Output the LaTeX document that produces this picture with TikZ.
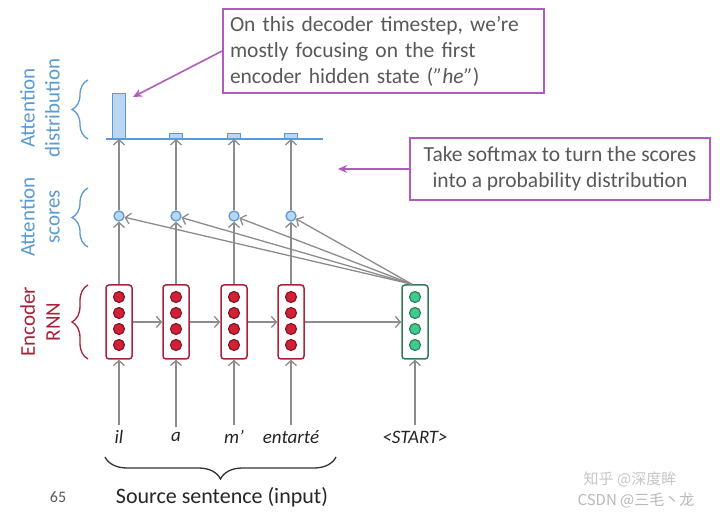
\documentclass[tikz,border=0pt]{standalone}
\usepackage{fontspec}
\setmainfont{Carlito}
\newfontfamily\cjk{Noto Sans CJK SC}
\usetikzlibrary{arrows.meta,positioning,decorations.pathreplacing}
\definecolor{purc}{HTML}{B05CBE}
\definecolor{txtc}{HTML}{595959}
\definecolor{arrc}{HTML}{8C8C8C}
\definecolor{bluec}{HTML}{5B9BD5}
\definecolor{bluebg}{HTML}{BBD6F2}
\definecolor{redc}{HTML}{A8223A}
\definecolor{reddot}{HTML}{D32033}
\definecolor{greenc}{HTML}{2F7D5E}
\definecolor{greendot}{HTML}{3FCB8F}
\tikzset{
  ar/.style={-{Straight Barb[length=5pt,width=11pt]},line width=1.3pt,arrc},
  par/.style={-{Stealth[length=9pt,width=8pt]},line width=1.6pt,purc},
  note/.style={draw=purc,line width=2pt,fill=white,text=txtc,font=\fontsize{21.5}{26}\selectfont,inner sep=7pt},
  cell/.style={draw,line width=1.5pt,rounded corners=3pt,fill=white,minimum width=26pt,minimum height=74pt},
  dot/.style={circle,draw,line width=1.2pt,minimum size=11pt,inner sep=0pt},
  sc/.style={circle,draw=bluec,line width=1.3pt,fill=bluebg,minimum size=10pt,inner sep=0pt},
  bar/.style={draw=bluec,line width=1.3pt,fill=bluebg,minimum width=13pt,inner sep=0pt,anchor=south},
  wd/.style={font=\fontsize{19}{21}\selectfont\itshape,text=black!85},
  brc/.style={decorate,decoration={brace,amplitude=#1},line width=1.3pt},
  side/.style={rotate=90,align=center,font=\fontsize{21}{25}\selectfont}
}
\begin{document}
\begin{tikzpicture}[x=1pt,y=1pt]
\fill[white] (0,0) rectangle (720,519);
\useasboundingbox (0,0) rectangle (720,519);
% attention distribution baseline
\draw[bluec,line width=1.3pt] (106,380) -- (323,380);
% encoder
\foreach \i/\x/\w/\h in {1/119/il/45,2/176/a/5,3/234/m’/5,4/291/entarté/5}{
  \node[cell,draw=redc] (e\i) at (\x,197) {};
  \foreach \y in {222,206,190,174}
    \node[dot,draw=redc!75!black,fill=reddot] at (\x,\y) {};
  \node[wd] (w\i) at (\x,82) {\w};
  \node[sc] (s\i) at (\x,303) {};
  \node[bar,minimum height=\h pt] (d\i) at (\x,380) {};
  \draw[ar,shorten <=2pt] (w\i) -- (e\i);
  \draw[ar] (e\i) -- (s\i);
  \draw[ar] (s\i) -- (d\i.south);
}
% decoder
\node[cell,draw=greenc] (dec) at (415,197) {};
\foreach \y in {222,206,190,174}
  \node[dot,draw=greenc,fill=greendot] at (415,\y) {};
\node[wd] (ws) at (415,82) {<START>};
\draw[ar,shorten <=2pt] (ws) -- (dec);
\draw[ar] (e1) -- (e2);
\draw[ar] (e2) -- (e3);
\draw[ar] (e3) -- (e4);
\draw[ar] (e4) -- (dec);
\foreach \i in {1,...,4}
  \draw[ar] ([xshift=-3pt]dec.north) -- (s\i);
% notes
\node[note,align=left,text width=307pt,anchor=north west] (n1) at (222,511)
  {On this decoder timestep, we’re\\mostly focusing on the first\\encoder hidden state (\textit{”he”})};
\node[note,align=center,minimum width=300pt,minimum height=62pt] (n2) at (560,350)
  {Take softmax to turn the scores\\into a probability distribution};
\coordinate (tip1) at (133,422);
\coordinate (tip2) at (338,350);
\draw[par] (n1.west) -- (tip1);
\draw[par] (n2.west) -- (tip2);
% side labels
\draw[brc=16pt,bluec] (88,380) -- (88,439);
\draw[brc=16pt,bluec] (88,272) -- (88,331);
\draw[brc=16pt,redc] (88,160) -- (88,234);
\node[side,text=bluec] (ld) at (40,411) {Attention\\distribution};
\node[side,text=bluec] (ls) at (40,302) {Attention\\scores};
\node[side,text=redc] (le) at (40,197) {Encoder\\RNN};
% source sentence
\draw[brc=22pt,black!80] (336,62) -- (105,62);
\node[font=\fontsize{22}{24}\selectfont,text=black!85] (src) at (222,22) {Source sentence (input)};
\node[font=\fontsize{16}{18}\selectfont,text=txtc] (pg) at (58,22) {65};
% watermarks
\node[text=gray!45,font=\cjk\fontsize{15}{17}\selectfont] (wm1) at (630,40) {知乎 @深度眸};
\node[text=gray!55,font=\cjk\fontsize{15}{17}\selectfont] (wm2) at (636,19) {CSDN @三毛丶龙};
\end{tikzpicture}
\end{document}
